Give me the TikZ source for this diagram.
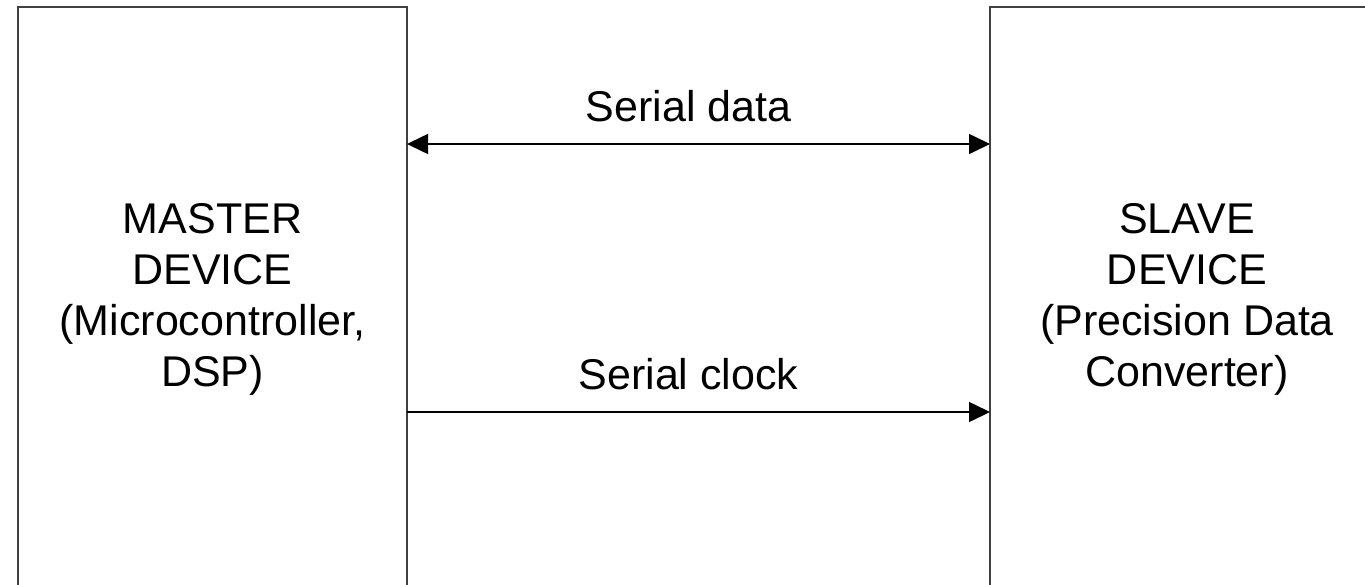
\documentclass[tikz,border=0pt]{standalone}
\usepackage{fontspec}
\setmainfont{Liberation Sans}
\usetikzlibrary{arrows.meta,calc,positioning}
\tikzset{
  devnode/.style = {align=center, rectangle, draw=my_gray, line width=1pt, inner sep=0pt,
  outer sep=0pt, text centered, font=\fontsize{21.5pt}{25.5pt}\selectfont},
  dev_l/.style = {devnode, minimum width=194.5pt, minimum height=292pt},
  dev_r/.style = {devnode, minimum width=197pt, minimum height=292pt}
}
\definecolor{my_gray}{RGB}{64, 64, 64}

\begin{document}
\begin{tikzpicture}[>={Triangle[length=10.5pt,width=10pt]}, x=0.5pt, y=-0.5pt,
        	sig/.style={draw=black, line width=0.8pt},
	        sig_lbl/.style={font=\fontsize{21.5pt}{25.5pt}\selectfont, inner sep=0pt, above=10.5pt, xshift=-5pt}]
	        \useasboundingbox (0,0) rectangle (1365,584);
	        \clip (0,0) rectangle (1365,584);
	        \node (master) [dev_l] at (212.5,299) {MASTER\\DEVICE\\(Microcontroller,\\DSP)};
	        \node (slave) [dev_r] at (1187,299) {SLAVE\\DEVICE\\(Precision Data\\Converter)};
	        \draw [sig, <->] ([yshift=77.5pt]master.east) -- node (data) [sig_lbl] {Serial data} ([yshift=77.5pt]slave.west);
	        \draw [sig, ->] ([yshift=-56.5pt]master.east) -- node (clock) [sig_lbl] {Serial clock} ([yshift=-56.5pt]slave.west);
        \end{tikzpicture}
\end{document}
